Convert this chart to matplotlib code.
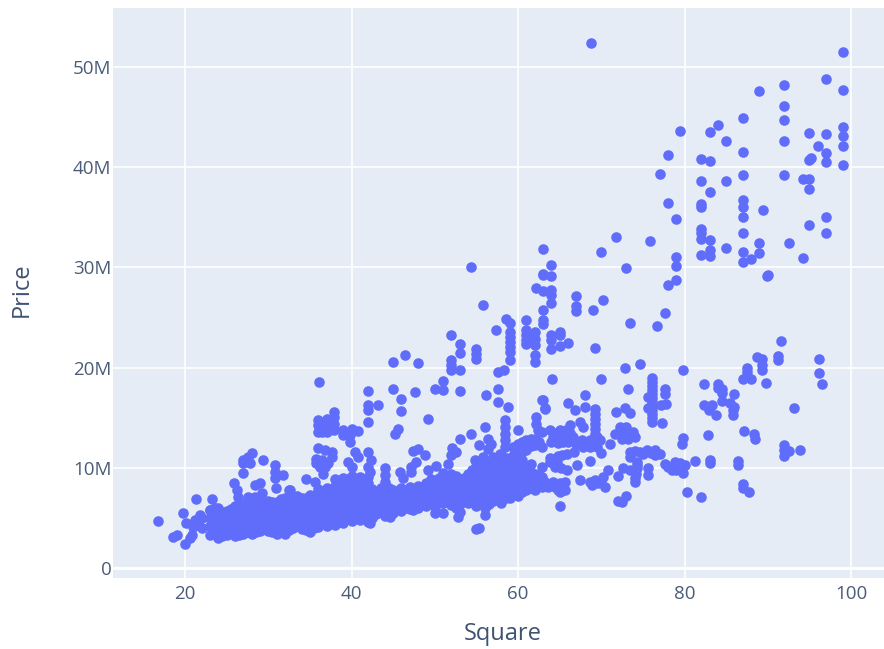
import numpy as np
import matplotlib
matplotlib.use("Agg")
import matplotlib.pyplot as plt

# (square, price in millions), region by region
top_right = [
    (68.8,52.4),(99,51.5),(97,48.8),(99,47.7),(92,48.2),(89,47.6),(92,46.1),(92,44.7),(87,44.9),(84,44.2),
    (83,43.5),(79.4,43.6),(85,42.65),(92,42.65),(95,43.45),(97,43.3),(99,44.05),(99,43.1),(99,42.15),(96,42.1),
    (97,41.4),(95.2,40.95),(95,40.7),(97,40.5),(99,40.2),(87,41.55),(82,40.85),(83,40.65),(78,41.2),(77,39.3),
    (82,38.6),(85,38.6),(87,39.2),(92,39.25),(94.2,38.8),(95,38.8),(95,37.8),(83,37.5),(78,36.4),(82,36.3),
    (82,36),(87,36.7),(87,36),(87,35),(89.4,35.7),(79,34.8),(97,35.05),(95,34.2),(97,33.4),(82,33.8),
    (82,33.4),(82,32.85),(83,32.75),(87,33.4),(71.8,33),(75.9,32.6),(89,32.4),(92.5,32.4),(63,31.85),(70,31.5),
    (85,31.9),(87,31.5),(89,31.4),(83,31.7),(83,31.1),(82,31.25),(88,30.8),(87,30.5),(79,31),(79,30.15),
    (94.2,30.95),(64,30.25),(73,29.9),
]
mid_right = [
    (90,29.25),(89.9,29.1),(79,28.75),(78,28.2),(64,29.1),(63,29.2),(64,27.75),(63,27.6),(64,27.25),(64,26.5),
    (67,27.15),(70.2,26.8),(67,26.15),(67,25.7),(69,25.8),(77.7,25.5),(63,25.75),(63,24.75),(63,24.4),(73.4,24.45),
    (76.7,24.15),(65,23.6),(64,23.25),(65,23.25),(64,22.8),(66,22.45),(65,22.2),(64,21.9),(69.2,21.95),(91.6,22.7),
    (88.7,21.1),(89.3,20.9),(91.2,21.15),(91.2,20.8),(96.2,20.9),(89.3,20.25),(89.3,19.8),(87.5,20),(87.5,19.6),
    (87,18.9),(88,18.85),(89.8,18.5),(96.2,19.5),(96.5,18.4),(79.85,19.8),(74.65,20.4),(72.8,19.95),(64.1,18.9),
    (70,18.85),(73.2,17.9),(68,17.25),(76.1,19),(76.1,18.6),(76.1,18.2),(76.1,17.8),(76.1,17.4),(76.1,17),
    (76.1,16.6),(76.1,16.2),(76.1,15.8),(76.1,15.4),(76.1,15),(76.1,14.6),(75.6,17.1),(75.6,16),(77.7,17.9),
    (77.7,17.4),(77.8,16.4),(77.2,16.3),(77.3,14.45),(82.3,18.4),(84,18.4),(84,18),(84.5,17.9),(84.5,17.5),
    (85.9,17.4),(84.5,16.7),(85.5,16.45),(86,16.1),(85.8,15.75),(85.8,15.3),(82.3,16.25),(83.3,16.3),(82.9,15.75),
    (83.8,15.25),(93.2,16),(87.2,13.7),(88.3,13.4),(88.5,12.85),(82.8,13.3),(92,12.3),(92,11.8),(92,11.2),
    (92.6,11.7),(93.9,11.8),(79.8,13),(79.7,12.4),(81.3,10.7),(83,10.8),(83,10.45),(86.4,10.7),(86.4,10.3),
    (87,8.4),(87,7.95),(87.7,7.6),(80.3,7.6),(82,7.1),
]
low_right = [
    (72.8,16),(73.4,15.5),(71.8,15.6),(72.2,14.1),(73,14.1),(71.6,13.4),(72.2,13.4),(72.9,13.4),(73.5,13.4),
    (74,13.1),(71,12.4),(73.4,11.6),(73.4,11.1),(74.6,11.6),(75.5,11.8),(76.5,11.8),(77,11.4),(76.5,11.3),
    (74.25,10.6),(74.25,9.95),(74,8.95),(74,8.6),(72.65,9.95),(73.45,9.8),(75.6,9.95),(75.6,9.3),(72,9.2),
    (77.65,10.4),(78.85,10.6),(79.45,10.45),(80,10.3),(78.5,9.8),(79,9.8),(79.85,9.45),(70.85,9.8),(70.25,9.1),
    (70.45,8.1),(69.25,8.8),(68.65,8.6),(67.4,8.75),(73,7.2),(72,6.7),(72.45,6.6),(65,6.15),(68.65,10.7),
    (67.1,10.3),(65.85,9.8),(69.3,15.9),(69.3,15.4),(69.3,14.9),(69.3,14.4),(69.3,13.9),(69.3,13.4),(69.3,12.9),
    (69.3,12.4),(66,16.5),(66.8,15.75),(68,16.1),(62.95,16.75),(63.2,16),(67.4,14.6),(67.8,14.1),(63.8,13.8),
    (65,13.8),(65.8,13.8),(64.2,13.1),(65,13.1),(65.85,13.1),(66.6,13.1),(64,12.6),(64.85,12.5),(66,12.6),
    (67.65,12.75),(67.85,12.1),(68.65,12.75),(69.45,13.1),(69.85,12.75),(68.65,12.1),(69.45,12.1),(70,11.5),
    (66.25,14.25),(62.85,13.6),(62.85,12.1),(63.85,10.95),(64.85,11.2),(65.85,11.4),(66.7,11.6),(63.85,10.6),
    (64.65,10.6),(64.45,10.1),(65.2,9.95),(62.85,10.1),(62.85,9.1),(62.85,8.1),(63.65,8.1),(64.45,8.1),(65,8.45),
    (65,7.6),(65.65,8.6),(65.65,7.8),(64.4,13.5),(65.4,12.6),(66.2,13.5),(67,12.4),(68.2,12.4),(64.3,10.9),
    (65.3,11.3),(63.3,8.6),(64.2,8.6),(64.8,7.8),(72.5,12.9),(73.2,12.9),(73.8,13.6),(72.6,13.8),(76,11.5),
    (75,11.4),(74,11.7),(74.2,9.4),(74.3,10.3),(78,10.1),(79,10.2),(79.4,9.9),(69.6,8.5),(70,8.8),(68.9,8.3),
]
middle = [
    (54.35,30),(55.85,26.25),(58.55,24.9),(59,24.5),(60.95,24.75),(63,29.3),(62.2,27.9),(57.35,23.75),(52,23.3),
    (53,22.35),(53,21.5),(55,21.9),(55,21.4),(55,20.9),(59,23.6),(59,23.1),(59,22.6),(59,22.1),(59,21.6),(59,20.75),
    (61,23.75),(61,23.25),(61,22.75),(61,22.35),(61.5,23),(61.5,22.6),(62,23.6),(62,22.9),(62,22.25),(62,21.25),
    (62,20.6),(52,20.75),(52,20.25),(52,19.75),(53,19.75),(57.6,19.6),(58.3,19.75),(46.4,21.3),(45,20.6),(48,20.5),
    (36.05,18.6),(45,17.9),(42,17.65),(47.6,17.55),(51,18.7),(50.05,17.9),(51,17.75),(53,17.65),(57.6,17.9),
    (56.2,17.25),(57.6,16.6),(58.85,16.1),(46,16.9),(46,15.65),(42,16.3),(42,15.75),(43.15,16.25),(42,14.6),
    (49.2,14.9),(45.6,13.85),(45.2,13.4),(37.95,15.6),(37.95,15.1),(37.95,14.4),(37.95,13.8),(36,14.8),(36,14.3),
    (36,13.6),(37,14.9),(37,14.3),(37,13.6),(36.5,14.6),(36.5,13.6),(39,13.8),(40,13.9),(40.8,13.7),(39,13.3),
    (39.8,13.3),(39.8,12.6),(36,12),(36.8,11.75),(37.6,11.6),(37.6,11.1),(35.75,10.9),(36.4,10.8),(35.75,10.45),
    (36.2,10.1),(36.8,10.1),(36.6,9.4),(37.2,10.45),(40.4,11.6),(39.6,10.6),(40,10.1),(40.8,11.1),(42,11.6),
    (42.4,10.8),(42,10.1),(41,9.1),(42.2,9.6),(41.4,8.8),(47.4,11.65),(48,11.85),(48.8,11.3),(47.8,10.6),(47.2,10.1),
    (47.2,9.6),(45.8,9.6),(46.2,8.95),(44,9.95),(44,9.3),(44,8.6),(49.15,9.8),(50.1,10.2),(51.6,10.4),(52.1,11.95),
    (52.6,11.6),(52,11.3),(53,12.9),(54.3,13.4),(55.3,12.3),(56,14.1),(56.4,12.9),(56.8,12.4),(56.4,11.9),(58.4,14.8),
    (58.4,14.1),(58.4,13.4),(58.4,12.8),(58.4,12.1),(60,13.8),(62.1,15.1),(62.1,14.4),(62.4,13.8),(62.85,16.75),
    (63.2,15.9),(59.4,12.1),(60,12.4),(60.5,12.6),(61,12.8),(61.5,12.9),(54.8,10.8),(55.8,11.1),(57,11.1),(57.8,11.4),
    (42.2,4.45),(44.6,5.1),(47.4,5.8),(50,5.45),(51,5.5),(52.8,5.1),(56,5.3),(55.3,3.95),(55,3.85),(32.6,7.8),
]
low_left = [
    (16.76,4.73),(18.6,3.1),(19,3.3),(20,2.43),(19.8,5.45),(20.1,4.5),(21.3,6.9),(23.2,6.9),(21,4.1),(21.2,4.8),
    (21.8,5.3),(20.8,3.3),(20.6,3),(21.6,4.6),(23.6,6),(23,5.8),(27,10.8),(27.6,11.1),(28,11.45),(27,10.45),
    (27.8,10.45),(29.4,10.8),(27,9.5),(30.8,10.3),(30.8,9.6),(30.8,9),(31.8,9.3),(25.9,8.45),(26.2,7.8),(26.4,7.1),
    (28.4,8.3),(29,8.45),(29.2,7.45),(27.6,7.1),(28.4,7.1),(30.9,7.95),(32.5,7.8),(33,7.1),(34.5,8.85),(35.6,8.6),
]
# main band, whole square values
band = [
    (22,4),(22,5),
    (23,3.3),(23,4.2),(23,5),(23,5.8),
    (24,3),(24,3.8),(24,4.6),(24,5.4),(24,6),
    (25,3.3),(25,4.1),(25,4.9),(25,5.7),
    (26,3.2),(26,4),(26,4.8),(26,5.6),(26,6.2),
    (27,3.4),(27,4.2),(27,5),(27,5.8),(27,6.4),
    (28,3.4),(28,4.2),(28,5),(28,5.8),(28,6.5),
    (29,3.7),(29,4.5),(29,5.3),(29,6.1),(29,6.7),
    (30,3.7),(30,4.5),(30,5.3),(30,6.1),(30,6.7),
    (31,3.4),(31,4.2),(31,5),(31,5.8),(31,6.6),
    (32,3.4),(32,4.2),(32,5),(32,5.8),(32,6.6),(32,7),
    (33,4),(33,4.8),(33,5.6),(33,6.4),(33,7.1),
    (34,3.9),(34,4.7),(34,5.5),(34,6.3),(34,7),
    (35,3.6),(35,4.4),(35,5.2),(35,6),(35,6.8),(35,7.3),
    (36,4.1),(36,4.9),(36,5.7),(36,6.5),(36,7.3),(36,7.9),
    (37,4.2),(37,5),(37,5.8),(37,6.6),(37,7.4),(37,8),
    (38,4.3),(38,5.1),(38,5.9),(38,6.7),(38,7.5),(38,8.2),(38,8.9),
    (39,4.5),(39,5.3),(39,6.1),(39,6.9),(39,7.7),(39,8.5),(39,9),
    (40,4.7),(40,5.5),(40,6.3),(40,7.1),(40,7.9),(40,8.6),(40,9.2),
    (41,4.8),(41,5.6),(41,6.4),(41,7.2),(41,8),
    (42,4.6),(42,5.4),(42,6.2),(42,7),(42,7.8),(42,8.5),(42,9.1),
    (43,5.4),(43,6.2),(43,7),(43,7.6),
    (44,5.2),(44,6),(44,6.8),(44,7.6),(44,8.3),
    (45,5.5),(45,6.3),(45,7.1),(45,7.8),
    (46,5.7),(46,6.5),(46,7.3),(46,8),
    (47,5.9),(47,6.7),(47,7.5),(47,8.1),
    (48,6),(48,6.8),(48,7.5),(48,8.2),
    (49,6.2),(49,7),(49,7.8),(49,8.5),
    (50,6.1),(50,7),(50,7.8),(50,8.6),
    (51,6.5),(51,7.3),(51,8),(51,8.8),(51,9.5),
    (52,6.3),(52,7.1),(52,7.9),(52,8.7),(52,9.4),
    (53,5.6),(53,6.4),(53,7.2),(53,8),(53,8.8),
    (54,6.5),(54,7.3),(54,8),(54,8.8),(54,9.4),
    (55,6.2),(55,7),(55,7.8),(55,8.6),(55,9.4),(55,10.2),
    (56,6),(56,6.8),(56,7.6),(56,8.4),(56,9.2),(56,10),(56,10.7),
    (57,6.7),(57,7.5),(57,8.3),(57,9.1),(57,9.9),(57,10.7),
    (58,6.5),(58,7.3),(58,8.1),(58,8.9),(58,9.7),(58,10.5),(58,11.3),
    (59,7),(59,7.8),(59,8.6),(59,9.4),(59,10.2),(59,11),
    (60,7.2),(60,8),(60,8.8),(60,9.6),(60,10.4),(60,11.2),(60,12),
    (61,7.8),(61,8.6),(61,9.4),(61,10.2),(61,11.8),(61,12.4),
    (62,7.8),(62,8.6),(62,9.4),(62,12.3),(62,12.9),
]
# half square values in the same band
band_half = [
    (23.5,3.7),(23.5,4.6),(23.5,5.4),
    (24.5,3.2),(24.5,4),(24.5,4.8),(24.5,5.6),
    (25.5,3.5),(25.5,4.3),(25.5,5.1),(25.5,5.9),
    (26.5,3.3),(26.5,4.1),(26.5,4.9),(26.5,5.7),(26.5,6.3),
    (27.5,3.6),(27.5,4.4),(27.5,5.2),(27.5,6),
    (28.5,3.6),(28.5,4.4),(28.5,5.2),(28.5,6),(28.5,6.6),
    (29.5,3.9),(29.5,4.7),(29.5,5.5),(29.5,6.3),
    (30.5,3.6),(30.5,4.4),(30.5,5.2),(30.5,6),(30.5,6.6),
    (31.5,3.8),(31.5,4.6),(31.5,5.4),(31.5,6.2),(31.5,6.9),
    (32.5,3.8),(32.5,4.6),(32.5,5.4),(32.5,6.2),(32.5,7),
    (33.5,4.2),(33.5,5),(33.5,5.8),(33.5,6.6),(33.5,7.2),
    (34.5,3.8),(34.5,4.6),(34.5,5.4),(34.5,6.2),(34.5,7),
    (35.5,4),(35.5,4.8),(35.5,5.6),(35.5,6.4),(35.5,7.2),
    (36.5,4.5),(36.5,5.3),(36.5,6.1),(36.5,6.9),(36.5,7.7),
    (37.5,4.7),(37.5,5.5),(37.5,6.3),(37.5,7.1),(37.5,7.9),
    (38.5,4.6),(38.5,5.4),(38.5,6.2),(38.5,7),(38.5,7.8),(38.5,8.6),
    (39.5,4.9),(39.5,5.7),(39.5,6.5),(39.5,7.3),(39.5,8.1),(39.5,8.9),
    (40.5,5),(40.5,5.8),(40.5,6.6),(40.5,7.4),(40.5,8.2),(40.5,8.9),
    (41.5,5),(41.5,5.8),(41.5,6.6),(41.5,7.4),(41.5,8.2),
    (42.5,5),(42.5,5.8),(42.5,6.6),(42.5,7.3),(42.5,7.9),
    (43.5,5.6),(43.5,6.4),(43.5,7.2),(43.5,8),
    (44.5,5.6),(44.5,6.4),(44.5,7.2),(44.5,8),
    (45.5,5.9),(45.5,6.7),(45.5,7.5),
    (46.5,6),(46.5,6.8),(46.5,7.6),
    (47.5,6.2),(47.5,7),(47.5,7.8),
    (48.5,6.4),(48.5,7.2),(48.5,8),
    (49.5,6.5),(49.5,7.3),(49.5,8.1),(49.5,8.9),
    (50.5,6.6),(50.5,7.4),(50.5,8.2),(50.5,9),
    (51.5,6.7),(51.5,7.5),(51.5,8.3),(51.5,9.1),
    (52.5,6),(52.5,6.8),(52.5,7.6),(52.5,8.4),(52.5,9.2),
    (53.5,6.7),(53.5,7.5),(53.5,8.3),(53.5,9),
    (54.5,6.6),(54.5,7.4),(54.5,8.2),(54.5,9),(54.5,9.8),
    (55.5,6.4),(55.5,7.2),(55.5,8),(55.5,8.8),(55.5,9.6),(55.5,10.4),
    (56.5,6.4),(56.5,7.2),(56.5,8),(56.5,8.8),(56.5,9.6),(56.5,10.4),
    (57.5,7),(57.5,7.8),(57.5,8.6),(57.5,9.4),(57.5,10.2),(57.5,11),
    (58.5,7),(58.5,7.8),(58.5,8.6),(58.5,9.4),(58.5,10.2),(58.5,11),
    (59.5,7.4),(59.5,8.2),(59.5,9),(59.5,9.8),(59.5,10.6),(59.5,11.4),
    (60.5,7.6),(60.5,8.4),(60.5,9.2),(60.5,10),(60.5,10.8),(60.5,11.6),(60.5,12.2),
    (61.5,8),(61.5,8.8),(61.5,9.6),(61.5,10.4),(61.5,12.2),
    (62.5,8.4),(62.5,9.2),(62.5,12.6),
]

x_ticks = [20, 40, 60, 80, 100]
y_ticks = [0, 10, 20, 30, 40, 50]
y_labels = ["0", "10M", "20M", "30M", "40M", "50M"]

pts = np.array(top_right + mid_right + low_right + middle + low_left + band + band_half)

plt.rcParams['font.family'] = ['Open Sans', 'DejaVu Sans']

fig = plt.figure(figsize=(8.84, 6.49), dpi=100)
ax = fig.add_axes([113/884, 71/649, 771/884, 570/649], facecolor="#E5ECF6")

ax.scatter(pts[:, 0], pts[:, 1], s=58, color="#5F6DFA", linewidths=0, zorder=3)

ax.set_xlim(11.35, 103.96)
ax.set_ylim(-1.0, 55.9)
ax.set_xticks(x_ticks)
ax.set_yticks(y_ticks)
ax.set_yticklabels(y_labels)

ax.grid(color="white", linewidth=1.2, zorder=1)
ax.axhline(0, color="white", linewidth=2, zorder=2)
ax.set_axisbelow(True)
for s in ax.spines.values():
    s.set_visible(False)
ax.tick_params(length=0, labelsize=13.5, labelcolor="#4A5C78", pad=1)
ax.tick_params(axis="x", pad=5)

ax.set_xlabel("Square", fontsize=17, color="#3F5270", labelpad=14, x=0.505)
ax.set_ylabel("Price", fontsize=17, color="#3F5270", labelpad=28, y=0.505)

fig.savefig("out.png", dpi=100)
